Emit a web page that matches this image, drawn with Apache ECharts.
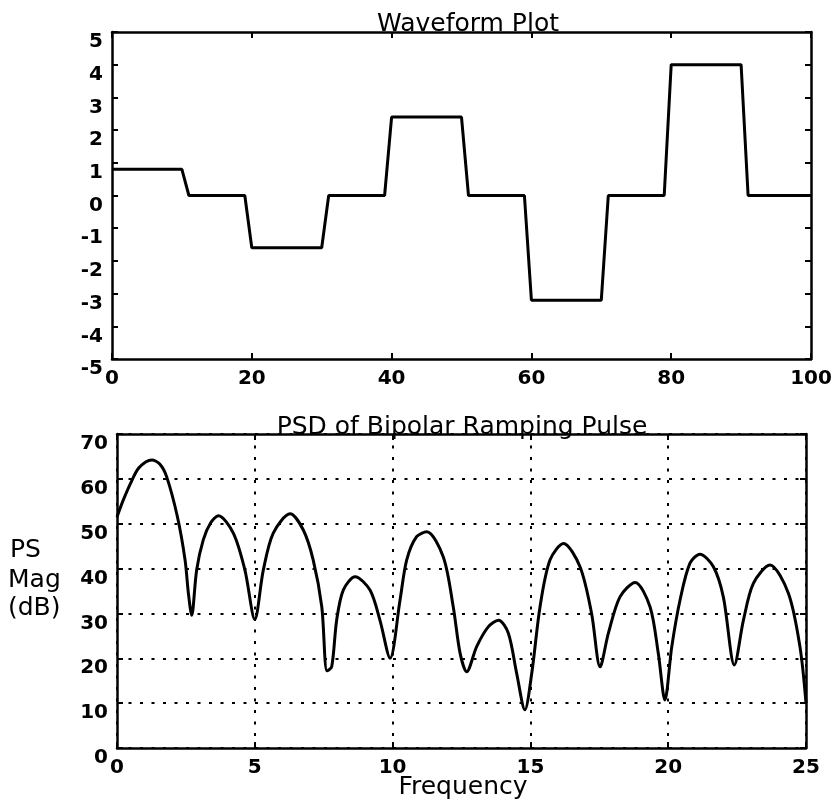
<!DOCTYPE html>
<html><head><meta charset="utf-8">
<script src="https://cdn.jsdelivr.net/npm/echarts@6/dist/echarts.min.js"></script>
<style>html,body{margin:0;padding:0;background:#fff}#c{width:835px;height:800px}</style>
</head><body><div id="c"></div>
<script>
// Waveform (top plot) vertices
const waveX = [0, 10, 11, 19, 20, 30, 31, 39, 40, 50, 51, 59, 60, 70, 71, 79, 80, 90, 91, 100];
const waveY = [0.8, 0.8, 0, 0, -1.6, -1.6, 0, 0, 2.4, 2.4, 0, 0, -3.2, -3.2, 0, 0, 4, 4, 0, 0];
// PSD (bottom plot)
const freq = [0, 0.23, 0.53, 0.8, 1.26, 1.55, 1.8, 2.19, 2.47, 2.59, 2.71, 2.89, 3.13, 3.4, 3.68, 4.22, 4.64, 5.0, 5.31, 5.67,
  6.28, 6.76, 7.12, 7.43, 7.62, 7.79, 7.97, 8.21, 8.64, 9.18, 9.54, 9.91, 10.27, 10.51, 10.87, 11.24, 11.84, 12.2, 12.45, 12.69,
  13.05, 13.47, 13.84, 14.2, 14.5, 14.8, 15.05, 15.35, 15.71, 16.2, 16.8, 17.22, 17.53, 17.83, 18.25, 18.8, 19.34, 19.64, 19.88, 20.13,
  20.43, 20.79, 21.15, 21.64, 22.0, 22.4, 22.73, 23.09, 23.69, 24.36, 24.78, 25.0];
const psdDb = [51.5, 55.3, 59.5, 62.5, 64.2, 63.3, 60.5, 51.6, 41.9, 34.5, 29.6, 39.7, 46.4, 50.2, 51.8, 47.9, 39.7, 28.7, 39.7, 47.9,
  52.2, 48.6, 41.9, 31.5, 17.2, 18.1, 28.5, 35.2, 38.2, 35.2, 28.5, 20.0, 33.0, 41.9, 47.1, 48.2, 42.6, 31.5, 21.1, 17.0,
  22.6, 27.0, 28.5, 25.6, 16.7, 8.5, 16.7, 31.5, 41.9, 45.6, 40.4, 30.0, 18.1, 25.6, 33.7, 36.9, 31.5, 21.1, 10.7, 22.6,
  33.0, 41.2, 43.2, 40.4, 33.7, 18.5, 28.5, 36.7, 40.8, 34.5, 22.6, 10.0];
// Tick values
const waveXTicks = [0, 20, 40, 60, 80, 100];
const waveYTicks = [-5, -4, -3, -2, -1, 0, 1, 2, 3, 4, 5];
const psdXTicks = [0, 5, 10, 15, 20, 25];
const psdYTicks = [0, 10, 20, 30, 40, 50, 60, 70];
// Texts
const topTitle = 'Waveform Plot';
const bottomTitle = 'PSD of Bipolar Ramping Pulse';
const xName = 'Frequency';
const yNameLines = ['PS', 'Mag', '(dB)'];

const tickFont = { fontFamily: 'DejaVu Sans', fontWeight: 'bold', fontSize: 20, color: '#000' };
const frameLine = { show: true, onZero: false, lineStyle: { color: '#000', width: 2.5 } };
const dots = { show: true, lineStyle: { color: '#000', width: 2, type: [3, 8.5] } };

function rng(t) { return { min: t[0], max: t[t.length - 1], interval: t[1] - t[0] }; }

function xAxes(g, ticks, grid) {
  const r = rng(ticks);
  return [
    Object.assign({ type: 'value', gridIndex: g, position: 'bottom', axisLine: frameLine,
      axisTick: { show: true, inside: true, length: 6, lineStyle: { color: '#000', width: 2 } },
      axisLabel: Object.assign({ margin: 10, showMinLabel: true, showMaxLabel: true }, tickFont),
      splitLine: grid ? dots : { show: false } }, r),
    Object.assign({ type: 'value', gridIndex: g, position: 'top', axisLine: frameLine,
      axisTick: { show: true, inside: true, length: 6, lineStyle: { color: '#000', width: 2 } },
      axisLabel: { show: false }, splitLine: { show: false } }, r)
  ];
}
function yAxes(g, ticks, grid) {
  const r = rng(ticks);
  return [
    Object.assign({ type: 'value', gridIndex: g, position: 'left', axisLine: frameLine,
      axisTick: { show: true, inside: true, length: 6, lineStyle: { color: '#000', width: 2 } },
      axisLabel: Object.assign({ margin: 9, verticalAlign: 'top', showMinLabel: true, showMaxLabel: true }, tickFont),
      splitLine: grid ? dots : { show: false } }, r),
    Object.assign({ type: 'value', gridIndex: g, position: 'right', axisLine: frameLine,
      axisTick: { show: true, inside: true, length: 6, lineStyle: { color: '#000', width: 2 } },
      axisLabel: { show: false }, splitLine: { show: false } }, r)
  ];
}

const chart = echarts.init(document.getElementById('c'), null, { renderer: 'canvas' });
const textFont = '25px "DejaVu Sans"';
const option = {
  animation: false,
  backgroundColor: '#fff',
  grid: [
    { left: 112, top: 32, width: 699, height: 327 },
    { left: 117, top: 434, width: 689, height: 314 }
  ],
  xAxis: xAxes(0, waveXTicks, false).concat(xAxes(1, psdXTicks, true)),
  yAxis: yAxes(0, waveYTicks, false).concat(yAxes(1, psdYTicks, true)),
  series: [
    { type: 'line', xAxisIndex: 0, yAxisIndex: 0, showSymbol: false, symbol: 'none',
      lineStyle: { color: '#000', width: 3 }, data: waveX.map((x, i) => [x, waveY[i]]) },
    { type: 'line', xAxisIndex: 2, yAxisIndex: 2, showSymbol: false, symbol: 'none', smooth: 0.3,
      lineStyle: { color: '#000', width: 3 }, data: freq.map((f, i) => [f, psdDb[i]]) }
  ],
  graphic: [
    { type: 'text', x: 468, y: 24, z: 100, style: { text: topTitle, font: textFont, fill: '#000', align: 'center', verticalAlign: 'middle' } },
    { type: 'text', x: 462, y: 427, z: 100, style: { text: bottomTitle, font: textFont, fill: '#000', align: 'center', verticalAlign: 'middle' } },
    { type: 'text', x: 463, y: 787, z: 100, style: { text: xName, font: textFont, fill: '#000', align: 'center', verticalAlign: 'middle' } },
    { type: 'text', x: 10, y: 550, z: 100, style: { text: yNameLines[0], font: textFont, fill: '#000', align: 'left', verticalAlign: 'middle' } },
    { type: 'text', x: 8, y: 580, z: 100, style: { text: yNameLines[1], font: textFont, fill: '#000', align: 'left', verticalAlign: 'middle' } },
    { type: 'text', x: 8, y: 608, z: 100, style: { text: yNameLines[2], font: textFont, fill: '#000', align: 'left', verticalAlign: 'middle' } }
  ]
};
chart.setOption(option);
</script>
</body></html>
